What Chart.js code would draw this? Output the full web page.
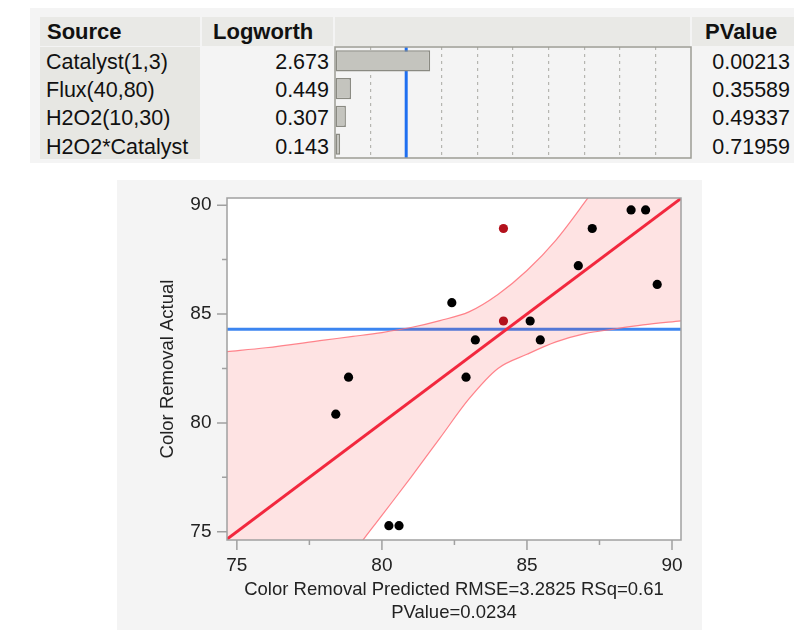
<!DOCTYPE html>
<html>
<head>
<meta charset="utf-8">
<script src="https://cdn.jsdelivr.net/npm/chart.js@4/dist/chart.umd.min.js"></script>
<style>
  body { margin: 0; background: #fff; width: 794px; height: 630px; position: relative; overflow: hidden;
         font-family: "Liberation Sans", Arial, sans-serif; color: #111; }
  .abs { position: absolute; }
  .hdr { background: #e9e9e6; font-weight: bold; font-size: 22px; line-height: 29px; }
  .cell { font-size: 21.5px; line-height: 28px; white-space: nowrap; }
</style>
</head>
<body>
<div class="abs" style="left:30px;top:8px;width:764px;height:155px;background:#f4f4f4"></div>
<div class="abs hdr" style="left:40px;top:17px;width:153px;height:29px;padding-left:7px">Source</div>
<div class="abs hdr" style="left:202px;top:17px;width:120px;height:29px;padding-left:11px">Logworth</div>
<div class="abs hdr" style="left:335px;top:17px;width:355px;height:29px"></div>
<div class="abs hdr" style="left:692px;top:17px;width:89px;height:29px;padding-left:13px">PValue</div>
<div class="abs" style="left:40px;top:47px;width:160px;height:112px;background:#e7e7e3"></div>
<div id="rows"></div>
<div class="abs" style="left:334px;top:46px;width:358px;height:113px"><canvas id="logw" width="358" height="113"></canvas></div>

<div class="abs" style="left:117px;top:180px;width:585px;height:450px;background:#f4f4f4">
  <canvas id="avp" width="585" height="450"></canvas>
</div>

<script>
// effect summary
var sources = ['Catalyst(1,3)', 'Flux(40,80)', 'H2O2(10,30)', 'H2O2*Catalyst'];
var logworth = [2.673, 0.449, 0.307, 0.143];
var pvalues = ['0.00213', '0.35589', '0.49337', '0.71959'];
var logworthRef = 2; // blue line, p = 0.01

// actual by predicted
var predicted = [78.41, 78.85, 80.24, 80.59, 82.41, 82.90, 83.22, 85.11, 85.46, 86.77, 87.25, 88.59, 89.09, 89.49];
var actual    = [80.40, 82.10, 75.28, 75.28, 85.52, 82.10, 83.81, 84.68, 83.81, 87.22, 88.93, 89.78, 89.78, 86.36];
var redPredicted = [84.19, 84.19];
var redActual    = [88.93, 84.68];
var meanActual = 84.3;
var fitEnds = [74.6, 90.4];
var bandX     = [74.66, 76, 78, 79, 80, 81, 82, 83, 84, 85, 86, 87, 88, 89, 90.31];
var bandUpper = [83.27, 83.45, 83.8, 83.97, 84.15, 84.38, 84.7, 85.1, 85.9, 87.0, 88.4, 90.15, 92.0, 93.9, 96.4];
var bandLower = [65.8, 68.3, 72.1, 74.0, 75.75, 77.5, 79.3, 81.1, 82.5, 83.15, 83.72, 84.1, 84.31, 84.5, 84.69];
var xTicks = [75, 77.5, 80, 82.5, 85, 87.5, 90];
var yTicks = [75, 77.5, 80, 82.5, 85, 87.5, 90];

var rowTops = [48, 76, 104, 133];
var html = '';
for (var i = 0; i < sources.length; i++) {
  html += '<div class="abs cell" style="left:46px;top:' + rowTops[i] + 'px">' + sources[i] + '</div>';
  html += '<div class="abs cell" style="left:202px;width:127px;text-align:right;top:' + rowTops[i] + 'px">' + logworth[i].toFixed(3) + '</div>';
  html += '<div class="abs cell" style="left:692px;width:98px;text-align:right;top:' + rowTops[i] + 'px">' + pvalues[i] + '</div>';
}
document.getElementById('rows').innerHTML = html;

const boxPlugin = {
  id: 'box',
  beforeDatasetsDraw(chart) {
    const ctx = chart.ctx, a = chart.chartArea;
    const x = chart.scales.x.getPixelForValue(logworthRef);
    ctx.save();
    ctx.strokeStyle = '#1f6ff0';
    ctx.lineWidth = 3;
    ctx.beginPath(); ctx.moveTo(x, a.top); ctx.lineTo(x, a.bottom); ctx.stroke();
    ctx.restore();
  },
  afterDraw(chart) {
    const ctx = chart.ctx, a = chart.chartArea;
    ctx.save();
    ctx.strokeStyle = '#9c9c94';
    ctx.lineWidth = 1.5;
    ctx.strokeRect(a.left, a.top, a.right - a.left, a.bottom - a.top);
    ctx.restore();
  }
};

new Chart(document.getElementById('logw'), {
  type: 'bar',
  data: {
    labels: sources,
    datasets: [{
      data: logworth,
      backgroundColor: '#c4c4be',
      borderColor: '#8a8a82',
      borderWidth: 1.5,
      borderSkipped: false,
      barPercentage: 0.76,
      categoryPercentage: 1
    }]
  },
  options: {
    indexAxis: 'y',
    responsive: false,
    animation: false,
    layout: { padding: 1 },
    plugins: { legend: { display: false }, tooltip: { enabled: false } },
    scales: {
      x: {
        min: 0, max: 10,
        ticks: { display: false, stepSize: 1 },
        grid: {
          drawTicks: false,
          lineWidth: 1.2,
          color: function(c) {
            var v = c.tick ? c.tick.value : -1;
            return (v === 0 || v === 10 || v === logworthRef) ? 'rgba(0,0,0,0)' : '#b5b5b0';
          }
        },
        border: { display: false, dash: [3, 4] }
      },
      y: { display: false }
    }
  },
  plugins: [boxPlugin]
});

const frame = {
  id: 'frame',
  beforeDraw(chart) {
    const ctx = chart.ctx, a = chart.chartArea;
    ctx.save();
    ctx.fillStyle = '#fff';
    ctx.fillRect(a.left, a.top, a.right - a.left, a.bottom - a.top);
    ctx.restore();
  },
  afterDraw(chart) {
    const ctx = chart.ctx, a = chart.chartArea;
    const sx = chart.scales.x, sy = chart.scales.y;
    ctx.save();
    ctx.strokeStyle = '#a0a0a0';
    ctx.lineWidth = 1.5;
    ctx.strokeRect(a.left, a.top, a.right - a.left, a.bottom - a.top);
    ctx.beginPath();
    xTicks.forEach(function(v) {
      var px = sx.getPixelForValue(v), len = (v % 5 === 0) ? 10 : 5;
      ctx.moveTo(px, a.bottom); ctx.lineTo(px, a.bottom + len);
    });
    yTicks.forEach(function(v) {
      var py = sy.getPixelForValue(v), len = (v % 5 === 0) ? 10 : 5;
      ctx.moveTo(a.left, py); ctx.lineTo(a.left - len, py);
    });
    ctx.stroke();
    ctx.restore();
  }
};

function pts(xs, ys) { return xs.map(function(x, i) { return { x: x, y: ys[i] }; }); }

var font = '"Liberation Sans", Arial, sans-serif';

new Chart(document.getElementById('avp'), {
  type: 'scatter',
  data: {
    datasets: [
      { data: pts(predicted, actual), pointRadius: 4.6, pointBackgroundColor: '#000', pointBorderWidth: 0, order: 0 },
      { data: pts(redPredicted, redActual), pointRadius: 4.6, pointBackgroundColor: '#b3111c', pointBorderWidth: 0, order: 0 },
      { type: 'line', data: pts(fitEnds, fitEnds), borderColor: '#f2283e', borderWidth: 3, pointRadius: 0, order: 1 },
      { type: 'line', data: pts(bandX, bandUpper), borderColor: 'rgba(255,110,120,0.85)', borderWidth: 1.2,
        pointRadius: 0, cubicInterpolationMode: 'monotone', fill: false, order: 2 },
      { type: 'line', data: pts(bandX, bandLower), borderColor: 'rgba(255,110,120,0.85)', borderWidth: 1.2,
        pointRadius: 0, cubicInterpolationMode: 'monotone', fill: '-1', backgroundColor: 'rgba(250,40,40,0.13)', order: 3 },
      { type: 'line', data: pts(fitEnds, [meanActual, meanActual]), borderColor: '#3c85f0', borderWidth: 3, pointRadius: 0, order: 4 }
    ]
  },
  options: {
    responsive: false,
    animation: false,
    layout: { padding: { top: 18, right: 21, left: 0, bottom: 0 } },
    plugins: { legend: { display: false }, tooltip: { enabled: false } },
    scales: {
      x: {
        min: 74.66, max: 90.31,
        afterBuildTicks: function(s) { s.ticks = xTicks.map(function(v) { return { value: v }; }); },
        afterFit: function(s) { s.height = 90; },
        ticks: { autoSkip: false, maxRotation: 0, padding: 4, color: '#222', font: { family: font, size: 19 },
                 callback: function(v) { return v % 5 === 0 ? String(v) : ''; } },
        grid: { drawOnChartArea: false, drawTicks: true, tickLength: 10, tickColor: 'rgba(0,0,0,0)' },
        border: { display: false },
        title: { display: true, text: ['Color Removal Predicted RMSE=3.2825 RSq=0.61', 'PValue=0.0234'],
                 color: '#222', font: { family: font, size: 18.5, lineHeight: 1.25 }, padding: { top: 0, bottom: 5.3 } }
      },
      y: {
        min: 74.62, max: 90.33,
        afterBuildTicks: function(s) { s.ticks = yTicks.map(function(v) { return { value: v }; }); },
        afterFit: function(s) { s.width = 110; },
        ticks: { autoSkip: false, padding: 5.5, color: '#222', font: { family: font, size: 19 },
                 callback: function(v) { return v % 5 === 0 ? String(v) : ''; } },
        grid: { drawOnChartArea: false, drawTicks: true, tickLength: 10, tickColor: 'rgba(0,0,0,0)' },
        border: { display: false },
        title: { display: true, text: 'Color Removal Actual', color: '#222',
                 font: { family: font, size: 18.5, lineHeight: 1.25 }, padding: { top: 39.4, bottom: 0 } }
      }
    }
  },
  plugins: [frame]
});
</script>
</body>
</html>
